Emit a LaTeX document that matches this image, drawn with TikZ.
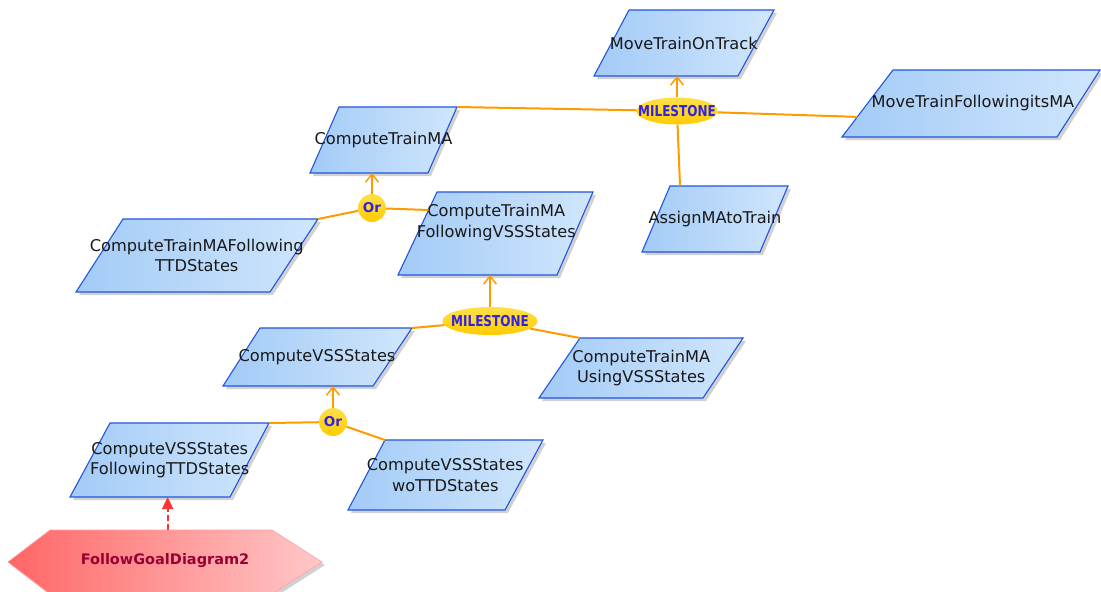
\documentclass[tikz,border=0pt]{standalone}
\usepackage{fontspec}
\setmainfont{DejaVu Sans}
\usetikzlibrary{arrows.meta,calc,shapes.geometric}
\definecolor{pblueL}{HTML}{A3CBF7}
\definecolor{pblueR}{HTML}{D0E6FC}
\definecolor{pborder}{HTML}{2255DD}
\definecolor{conncol}{HTML}{FF9A00}
\definecolor{gold}{HTML}{FFCC00}
\definecolor{goldL}{HTML}{FFE04A}
\definecolor{msblue}{HTML}{3322DD}
\definecolor{hexL}{HTML}{FF6666}
\definecolor{hexR}{HTML}{FFC8C8}
\definecolor{hextext}{HTML}{990033}
\definecolor{redarr}{HTML}{FF3333}
\tikzset{
  pfill/.style={left color=pblueL,right color=pblueR,draw=pborder,line width=1.1pt,line join=miter},
  pshadow/.style={fill=black,opacity=0.18},
  ptext/.style={font=\fontsize{16.2}{20.5}\selectfont,align=center,inner sep=0pt,text=black!90},
  milestone/.style={ellipse,inner xsep=-40pt,inner ysep=-8pt,top color=goldL,bottom color=gold,draw=none,
     font=\bfseries\fontsize{15}{15}\selectfont,text=msblue},
  ornode/.style={circle,inner sep=0pt,minimum size=28pt,top color=goldL,bottom color=gold,draw=none,
     font=\bfseries\fontsize{13.5}{13.5}\selectfont,text=msblue},
  conn/.style={draw=conncol,line width=2pt},
  arr/.style={conn,-{Straight Barb[length=8pt,width=13pt,line width=1.5pt]}},
  redconn/.style={draw=redarr,line width=1.7pt,dash pattern=on 6pt off 3pt,-{Triangle[length=12pt,width=11pt]}},
}
% name, tlx, trx, topy, blx, brx, boty, text, text y-offset
\newcommand\pgram[9]{%
  \begin{scope}[shift={(3,3)}]
    \fill[pshadow] (#2,#4) -- (#3,#4) -- (#6,#7) -- (#5,#7) -- cycle;
  \end{scope}
  \path[pfill] (#2,#4) coordinate (#1-tl) -- (#3,#4) coordinate (#1-tr)
     -- (#6,#7) coordinate (#1-br) -- (#5,#7) coordinate (#1-bl) -- cycle;
  \node[ptext] (#1) at ({(#2+#3+#5+#6)/4},{(#4+#7)/2+#9}) {#8};
}
\begin{document}
\begin{tikzpicture}[x=1pt,y=-1pt]
\useasboundingbox[fill=white] (0,0) rectangle (1101,592);

% parallelograms
\pgram{mtot}{629}{774}{10}{594}{738}{76}{MoveTrainOnTrack}{0}
\pgram{mtf}{893}{1100}{70}{842}{1057}{137}{MoveTrainFollowingitsMA}{0}
\pgram{ctma}{339}{457}{107}{310}{428}{173}{ComputeTrainMA}{0}
\pgram{atr}{670}{788}{186}{642}{760}{252}{AssignMAtoTrain}{0}
\pgram{fv}{437}{593}{192}{398}{557}{275}{ComputeTrainMA\\FollowingVSSStates}{-11}
\pgram{ft}{123}{318}{219}{76}{270}{292}{ComputeTrainMAFollowing\\TTDStates}{0}
\pgram{cvss}{260}{412}{328}{223}{373}{386}{ComputeVSSStates}{0}
\pgram{us}{580}{743}{338}{539}{703}{398}{ComputeTrainMA\\UsingVSSStates}{0}
\pgram{cf}{110}{269}{423}{70}{230}{497}{ComputeVSSStates\\FollowingTTDStates}{0}
\pgram{wo}{385}{543}{440}{348}{505}{510}{ComputeVSSStates\\woTTDStates}{0}

% hexagon
\begin{scope}[shift={(3,3)}]
  \fill[pshadow] (8,562) -- (50,530) -- (272,530) -- (322,562) -- (272,594) -- (50,594) -- cycle;
\end{scope}
\path[left color=hexL,right color=hexR,draw=hexR!80!red,line width=0.6pt]
  (8,562) -- (50,530) coordinate (hex-tl) -- (272,530) coordinate (hex-tr) -- (322,562) -- (272,594) -- (50,594) -- cycle;
\node[font=\bfseries\fontsize{14.5}{14.5}\selectfont,text=hextext,inner sep=0pt] (hex) at (165,561) {FollowGoalDiagram2};
\coordinate (hex-top) at ($(hex-tl)!0.53!(hex-tr)$);

% refinement nodes
\node[milestone,minimum width=81pt,minimum height=27pt] (m1) at (677,111) {\scalebox{0.8}[1]{MILESTONE}};
\node[milestone,minimum width=95pt,minimum height=28pt] (m2) at (490,321) {\scalebox{0.8}[1]{MILESTONE}};
\node[ornode] (or1) at (372,208) {Or};
\node[ornode] (or2) at (333,422) {Or};

% edge points
\coordinate (mtf-edge) at ($(mtf-tl)!0.7!(mtf-bl)$);
\coordinate (atr-top) at ($(atr-tl)!0.085!(atr-tr)$);
\coordinate (fv-left) at ($(fv-tl)!0.217!(fv-bl)$);

% connectors
\draw[conn] (ctma-tr) -- (m1);
\draw[conn] (m1) -- (mtf-edge);
\draw[conn] (atr-top) -- (m1);
\draw[arr] (m1.north) -- (m1.north |- mtot-bl);

\draw[conn] (ft-tr) -- (or1);
\draw[conn] (or1) -- (fv-left);
\draw[arr] (or1.north) -- (or1.north |- ctma-bl);

\draw[conn] (cvss-tr) -- (m2);
\draw[conn] (us-tl) -- (m2);
\draw[arr] (m2.north) -- (m2.north |- fv-bl);

\draw[conn] (cf-tr) -- (or2);
\draw[conn] (wo-tl) -- (or2);
\draw[arr] (or2.north) -- (or2.north |- cvss-bl);

\draw[redconn] (hex-top) -- (hex-top |- cf-bl);
\end{tikzpicture}
\end{document}
